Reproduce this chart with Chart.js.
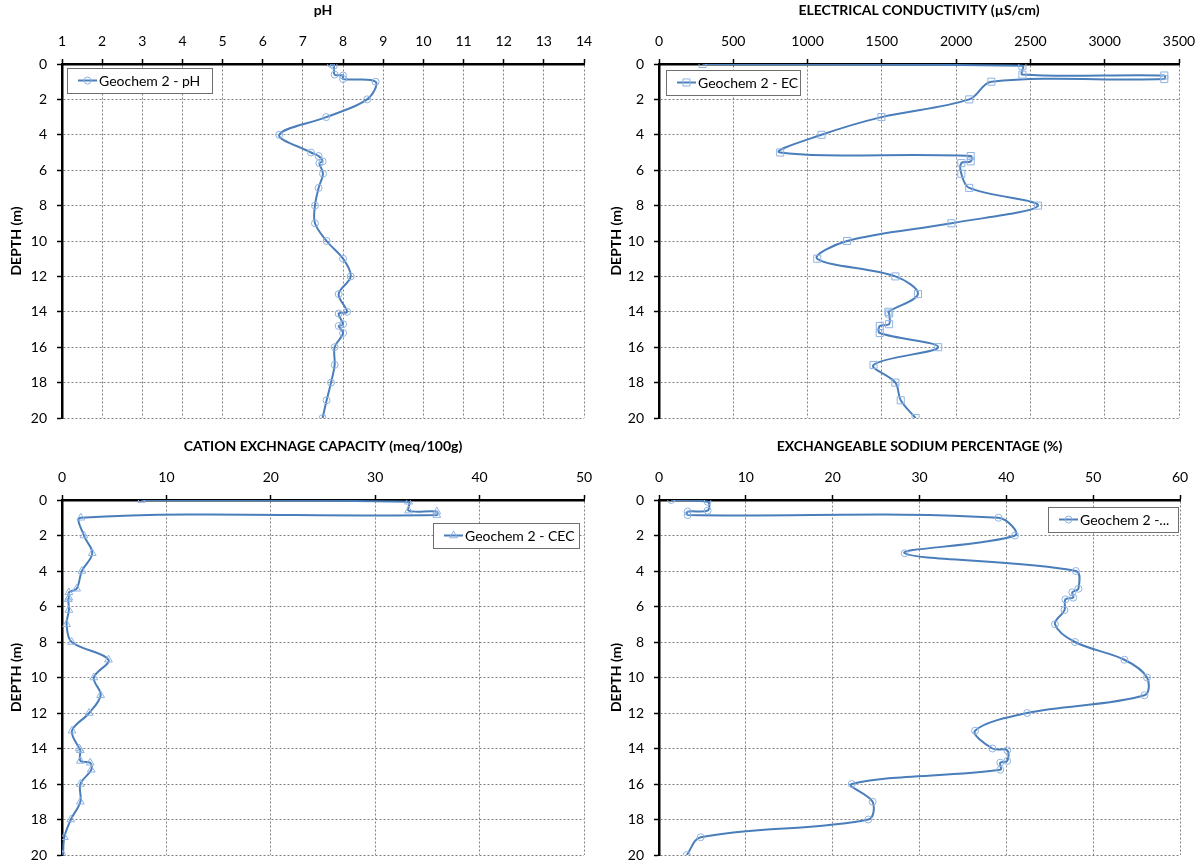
<!DOCTYPE html>
<html>
<head>
<meta charset="utf-8">
<title>Geochem 2 - depth profiles</title>
<script src="https://cdn.jsdelivr.net/npm/chart.js@4.4.1/dist/chart.umd.min.js"></script>
<style>
  html, body { margin: 0; padding: 0; background: #fff; }
  #wrap { position: relative; width: 1200px; height: 866px; }
  canvas { position: absolute; }
</style>
</head>
<body>
<div id="wrap">
  <canvas id="ph" width="600" height="433" style="left:0;top:0"></canvas>
  <canvas id="ec" width="600" height="433" style="left:600px;top:0"></canvas>
  <canvas id="cec" width="600" height="433" style="left:0;top:433px"></canvas>
  <canvas id="esp" width="600" height="433" style="left:600px;top:433px"></canvas>
</div>
<script>
// sample depths (m), shared by all four profiles
const depth = [0, 0.1, 0.6, 0.65, 0.85, 1, 2, 3, 4, 5, 5.2, 5.5, 5.6, 6.2, 7, 8, 9, 10,
               11, 12, 13, 14, 14.1, 14.7, 14.8, 15.2, 16, 17, 18, 19, 20];

const ph  = [7.70, 7.77, 7.79, 8.0, 8.0, 8.81, 8.6, 7.58, 6.41, 7.2, 7.39, 7.49, 7.41, 7.5, 7.39, 7.3,
             7.3, 7.59, 8.0, 8.19, 7.89, 8.1, 7.89, 8.0, 7.89, 8.0, 7.79, 7.79, 7.7, 7.59, 7.49];
const ec  = [293, 2446, 2446, 3401, 3401, 2237, 2088, 1497, 1094, 816, 2098, 2098, 2035, 2035, 2088, 2551,
             1968, 1266, 1065, 1591, 1743, 1544, 1549, 1549, 1486, 1486, 1879, 1444, 1591, 1627, 1727];
const cec = [7.6, 33.2, 33.2, 35.9, 35.9, 1.8, 2.1, 2.9, 1.9, 1.4, 0.66, 0.66, 0.6, 0.66, 0.44, 0.92,
             4.45, 3.05, 3.7, 2.6, 0.96, 1.65, 1.76, 1.76, 2.7, 2.8, 1.76, 1.76, 0.85, 0.22, 0.1];
const esp = [1.4, 5.6, 5.6, 3.3, 3.3, 39.1, 41.0, 28.3, 48.0, 48.3, 47.6, 47.7, 46.8, 46.7, 45.6, 47.9,
             53.6, 56.2, 55.9, 42.4, 36.4, 38.4, 40.1, 40.1, 39.3, 39.3, 22.2, 24.6, 24.1, 4.8, 3.2];

const depthTicks = { min: 0, max: 20, step: 2 };

const LINE = '#4a7ebb';
const MARK = '#8fb4e3';
const FONT = 'Lato, "Open Sans", sans-serif';

function points(values) {
    return values.map((v, i) => ({ x: v, y: depth[i] }));
}

function marker(ctx, style, r, x, y) {
    ctx.beginPath();
    if (style === 'rect') {
        const s = r / Math.SQRT2;
        ctx.rect(x - s, y - s, 2 * s, 2 * s);
    } else if (style === 'triangle') {
        ctx.moveTo(x, y - r);
        ctx.lineTo(x + r * 0.87, y + r * 0.5);
        ctx.lineTo(x - r * 0.87, y + r * 0.5);
        ctx.closePath();
    } else {
        ctx.arc(x, y, r, 0, Math.PI * 2);
    }
    ctx.stroke();
}

// Excel-style framed legend placed inside the plot area
const boxLegend = {
    id: 'boxLegend',
    afterDatasetsDraw(chart, args, opts) {
        const { ctx, chartArea } = chart;
        const x = Math.round(chartArea.left + opts.x);
        const y = Math.round(chartArea.top + opts.y);
        const cy = y + opts.h / 2;
        const ds = chart.data.datasets[0];
        ctx.save();
        ctx.fillStyle = '#fff';
        ctx.fillRect(x, y, opts.w, opts.h);
        ctx.strokeStyle = '#6f6f6f';
        ctx.lineWidth = 1;
        ctx.strokeRect(x + 0.5, y + 0.5, opts.w, opts.h);
        ctx.strokeStyle = LINE;
        ctx.lineWidth = 2;
        ctx.beginPath();
        ctx.moveTo(x + 11, cy);
        ctx.lineTo(x + 30, cy);
        ctx.stroke();
        ctx.strokeStyle = MARK;
        ctx.lineWidth = 1;
        marker(ctx, ds.pointStyle, ds.pointRadius, x + 20.5, cy);
        ctx.fillStyle = '#000';
        ctx.font = '14px ' + FONT;
        ctx.textBaseline = 'middle';
        ctx.fillText(opts.text, x + 32, cy + 1);
        ctx.restore();
    }
};

function axisCommon() {
    return {
        grid: { color: '#808080', lineWidth: 1, drawTicks: true, tickLength: 5,
                tickColor: '#000', tickWidth: 1.5, tickBorderDash: [] },
        border: { display: true, color: '#000', width: 2.5, dash: [2, 2] }
    };
}

const tickFont = { family: FONT, size: 14 };
const titleFont = { family: FONT, size: 14, weight: 'bold' };

function profile(id, o) {
    new Chart(document.getElementById(id), {
        type: 'scatter',
        data: {
            datasets: [{
                label: o.label,
                data: points(o.values),
                showLine: true,
                borderColor: LINE,
                borderWidth: 2,
                tension: 0.35,
                pointStyle: o.pointStyle,
                pointRadius: o.pointRadius,
                pointBorderColor: MARK,
                pointBackgroundColor: 'rgba(255,255,255,0)',
                pointBorderWidth: 1
            }]
        },
        options: {
            responsive: false,
            animation: false,
            layout: { padding: { left: 0, top: 0, right: o.padRight, bottom: o.padBottom } },
            plugins: {
                legend: { display: false },
                tooltip: { enabled: false },
                boxLegend: o.legend
            },
            scales: {
                x: {
                    type: 'linear',
                    position: 'top',
                    min: o.min,
                    max: o.max,
                    ticks: { stepSize: o.step, color: '#000', padding: 9, font: tickFont,
                             format: { useGrouping: false } },
                    title: { display: true, text: o.title, color: '#000', font: titleFont,
                             padding: { top: o.titleTop, bottom: 0 } },
                    afterFit(s) {
                        s.height = o.top;
                        s.paddingLeft = 0;
                        s.paddingRight = 0;
                    },
                    ...axisCommon()
                },
                y: {
                    type: 'linear',
                    reverse: true,
                    min: depthTicks.min,
                    max: depthTicks.max,
                    ticks: { stepSize: depthTicks.step, color: '#000', padding: 10, font: tickFont },
                    title: { display: true, text: 'DEPTH (m)', color: '#000', font: titleFont,
                             padding: { top: 8, bottom: 0 } },
                    afterFit(s) {
                        s.width = o.left;
                        s.paddingTop = 0;
                        s.paddingBottom = 0;
                    },
                    ...axisCommon()
                }
            }
        },
        plugins: [boxLegend]
    });
}

profile('ph', {
    label: 'Geochem 2 - pH', values: ph, pointStyle: 'circle', pointRadius: 3.5,
    title: 'pH', min: 1, max: 14, step: 1,
    left: 62, top: 64, padRight: 16, padBottom: 15, titleTop: 2,
    legend: { x: 5, y: 4, w: 145, h: 25, text: 'Geochem 2 - pH' }
});

profile('ec', {
    label: 'Geochem 2 - EC', values: ec, pointStyle: 'rect', pointRadius: 5,
    title: 'ELECTRICAL CONDUCTIVITY (µS/cm)', min: 0, max: 3500, step: 500,
    left: 59, top: 64, padRight: 21, padBottom: 15, titleTop: 2,
    legend: { x: 7, y: 6, w: 134, h: 25, text: 'Geochem 2 - EC' }
});

profile('cec', {
    label: 'Geochem 2 - CEC', values: cec, pointStyle: 'triangle', pointRadius: 4.5,
    title: 'CATION EXCHNAGE CAPACITY (meq/100g)', min: 0, max: 50, step: 10,
    left: 62, top: 67, padRight: 16, padBottom: 11, titleTop: 5,
    legend: { x: 371, y: 23, w: 146, h: 25, text: 'Geochem 2 - CEC' }
});

profile('esp', {
    label: 'Geochem 2 - ESP', values: esp, pointStyle: 'circle', pointRadius: 3.5,
    title: 'EXCHANGEABLE SODIUM PERCENTAGE (%)', min: 0, max: 60, step: 10,
    left: 59, top: 67, padRight: 20, padBottom: 11, titleTop: 5,
    legend: { x: 389, y: 7, w: 130, h: 25, text: 'Geochem 2 -...' }
});
</script>
</body>
</html>
